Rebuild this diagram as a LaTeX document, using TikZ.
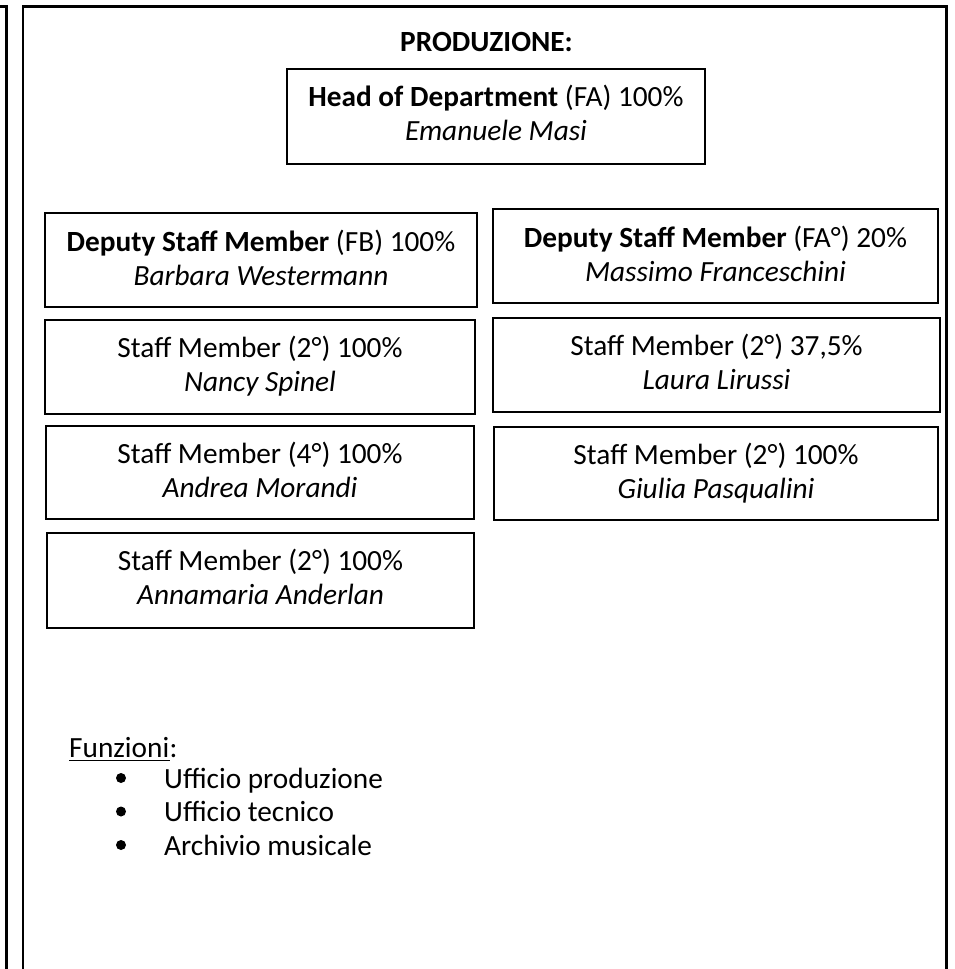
\documentclass[tikz,border=0pt]{standalone}
\usepackage{fontspec}
\setmainfont{Carlito}
\usetikzlibrary{calc}
\tikzset{
  frame/.style={line width=2.2pt, line cap=rect},
  orgbox/.style={draw, rectangle, line width=1.6pt, inner sep=0pt},
  txt/.style={inner sep=0pt, font=\fontsize{29.3}{35}\selectfont},
  uline/.style={line width=1.4pt},
}
% name, left, top, right, bottom, line 1, line 2, baseline offset
\newcommand\mkorgbox[8]{%
  \node[orgbox, minimum width={#4-#2}, minimum height={#5-#3}] (#1) at ({(#2+#4)/2},{(#3+#5)/2}) {};
  \node[txt, anchor=base] (#1-a) at ($(#1.north)+(0,#8)$) {#6};
  \node[txt, anchor=base] (#1-b) at ($(#1.north)+(0,#8+34)$) {#7};
}
\begin{document}
\begin{tikzpicture}[x=1pt,y=-1pt]
\useasboundingbox (0,0) rectangle (955,969);
% frames
\draw[frame] (0,6.5) -- (6.5,6.5) -- (6.5,969);
\draw[frame] (23,969) -- (23,6.5) -- (946.5,6.5) -- (946.5,969);
% title
\node[txt, anchor=base] (title) at (486.5,51) {\textbf{PRODUZIONE:}};
% boxes
\mkorgbox{head}{287}{69}{705}{164}{\textbf{Head of Department} (FA) 100\%}{\textit{Emanuele Masi}}{38}
\mkorgbox{depfb}{45}{213}{477}{307}{\textbf{Deputy Staff Member} (FB) 100\%}{\textit{Barbara Westermann}}{39}
\mkorgbox{depfa}{493}{209}{938}{303}{\textbf{Deputy Staff Member} (FA°) 20\%}{\textit{Massimo Franceschini}}{39}
\mkorgbox{nancy}{45}{320}{475}{414}{Staff Member (2°) 100\%}{\textit{Nancy Spinel}}{38}
\mkorgbox{laura}{493}{318}{940}{412}{Staff Member (2°) 37,5\%}{\textit{Laura Lirussi}}{38}
\mkorgbox{andrea}{46}{426}{474}{519}{Staff Member (4°) 100\%}{\textit{Andrea Morandi}}{38}
\mkorgbox{giulia}{494}{427}{938}{520}{Staff Member (2°) 100\%}{\textit{Giulia Pasqualini}}{38}
\mkorgbox{anna}{47}{533}{474}{628}{Staff Member (2°) 100\%}{\textit{Annamaria Anderlan}}{38}
% functions
\node[txt, anchor=base west] (fz) at (69,757) {Funzioni};
\node[txt, anchor=base west] (fzc) at (fz.base east) {:};
\draw[uline] ($(fz.base west)+(0,3.5)$) -- ($(fz.base east)+(0,3.5)$);
\node[txt, anchor=base west] (f1) at (164,788) {Ufficio produzione};
\node[txt, anchor=base west] (f2) at (164,821.5) {Ufficio tecnico};
\node[txt, anchor=base west] (f3) at (164,855) {Archivio musicale};
\fill (121,778) circle (5);
\fill (121,811.5) circle (5);
\fill (121,845) circle (5);
\end{tikzpicture}
\end{document}
